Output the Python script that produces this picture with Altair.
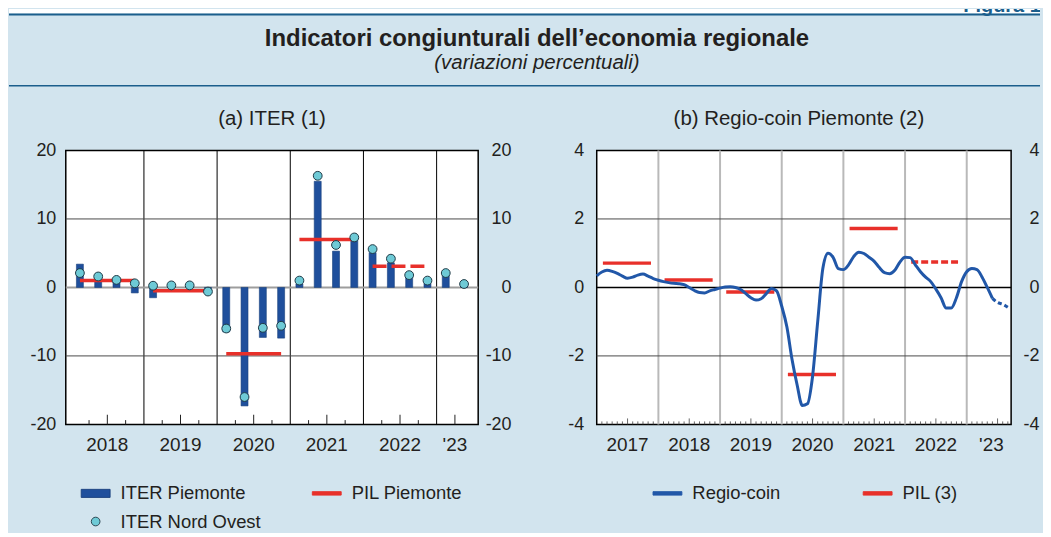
import altair as alt
import pandas as pd

FONT = "Liberation Sans"
TXT = "#231f20"
BG = "#d2e4ee"
NAVY = "#1b5e8c"
BAR = "#1f4f9c"
BAR_EDGE = "#173f7c"
DOT = "#6ecad6"
DOT_EDGE = "#1f3945"
RED = "#e8302a"
LINE = "#2157a8"

# ---------------- data: panel (a) ITER ----------------
quarters = ["2018T1", "2018T2", "2018T3", "2018T4",
            "2019T1", "2019T2", "2019T3", "2019T4",
            "2020T1", "2020T2", "2020T3", "2020T4",
            "2021T1", "2021T2", "2021T3", "2021T4",
            "2022T1", "2022T2", "2022T3", "2022T4",
            "2023T1", "2023T2"]
iter_piemonte = [3.4, 1.3, 0.9, -0.8, -1.5, 0.2, 0.2, -0.4,
                 -6.5, -17.3, -7.3, -7.4, 0.5, 15.5, 5.3, 7.0,
                 5.1, 3.6, 1.5, 0.6, 1.7, 0.2]
iter_nord_ovest = [2.1, 1.6, 1.1, 0.6, 0.25, 0.3, 0.3, -0.6,
                   -6.0, -16.0, -5.9, -5.6, 1.0, 16.3, 6.2, 7.3,
                   5.6, 4.2, 1.8, 1.0, 2.1, 0.5]
pil_years_a = [2018, 2019, 2020, 2021, 2022]
pil_piemonte = [1.0, -0.5, -9.7, 7.0, 3.1]
pil_a_stima = [False, False, False, False, True]
years_a = [2018, 2019, 2020, 2021, 2022, 2023]
ylabels_a = ["2018", "2019", "2020", "2021", "2022", "'23"]
yticks_a = [-20, -10, 0, 10, 20]

# ---------------- data: panel (b) Regio-coin ----------------
regio_start_year = 2017
regio_coin = [0.34, 0.45, 0.50, 0.47, 0.41, 0.33, 0.27, 0.30, 0.36, 0.39, 0.33, 0.26,
              0.21, 0.17, 0.14, 0.12, 0.11, 0.08, 0.00, -0.09, -0.15, -0.16, -0.10, -0.06,
              -0.02, 0.01, 0.02, 0.00, -0.06, -0.18, -0.30, -0.37, -0.33, -0.18, -0.03, -0.10,
              -0.55, -1.15, -2.10, -2.85, -3.45, -3.40, -2.60, -1.00, 0.55, 1.00, 0.88, 0.55,
              0.52, 0.66, 0.90, 1.03, 0.99, 0.88, 0.76, 0.58, 0.43, 0.40, 0.50, 0.74,
              0.88, 0.87, 0.66, 0.46, 0.30, 0.17, -0.05, -0.30, -0.60, -0.60, -0.30, 0.17,
              0.46, 0.55, 0.52, 0.30, 0.00, -0.32, -0.44, -0.49, -0.58]
n_provisional = 3  # last months drawn dotted
pil_years_b = [2017, 2018, 2019, 2020, 2021, 2022]
pil_b = [0.71, 0.22, -0.13, -2.54, 1.72, 0.74]
pil_b_stima = [False, False, False, False, False, True]
years_b = [2017, 2018, 2019, 2020, 2021, 2022, 2023]
ylabels_b = ["2017", "2018", "2019", "2020", "2021", "2022", "'23"]
yticks_b = [-4, -2, 0, 2, 4]

TITLE = "Indicatori congiunturali dell\u2019economia regionale"
SUBTITLE = "(variazioni percentuali)"
TITLE_A = "(a) ITER (1)"
TITLE_B = "(b) Regio-coin Piemonte (2)"
FIGURA = "Figura 1"
legend_a = ["ITER Piemonte", "PIL Piemonte", "ITER Nord Ovest"]
legend_b = ["Regio-coin", "PIL (3)"]

# ---------------- frames ----------------
def qpos(q):
    y, t = q.split("T")
    return int(y) + (int(t) - 0.5) / 4

df_a = pd.DataFrame({"q": quarters, "pos": [qpos(q) for q in quarters],
                     "iter": iter_piemonte, "nw": iter_nord_ovest})
df_pil_a = pd.DataFrame({"x0": [y + 0.125 for y in pil_years_a],
                         "x1": [y + 0.875 for y in pil_years_a],
                         "v": pil_piemonte, "stima": pil_a_stima})
months = [regio_start_year + m / 12 for m in range(len(regio_coin))]
df_b = pd.DataFrame({"x": months, "v": regio_coin})
n = len(regio_coin)
df_b_solid = df_b.iloc[: n - n_provisional]
df_b_dot = df_b.iloc[n - n_provisional - 1:]
df_pil_b = pd.DataFrame({"x0": [y + 0.1 for y in pil_years_b],
                         "x1": [y + 0.88 for y in pil_years_b],
                         "v": pil_b, "stima": pil_b_stima})

# label positions: centre of each year (partial last year -> its visible centre)
lab_a = [y + 0.5 for y in years_a[:-1]] + [2023.25]
lab_b = [y + 0.5 for y in years_b[:-1]] + [2023.4]
df_lab_a = pd.DataFrame({"x": lab_a, "t": ylabels_a})
df_lab_b = pd.DataFrame({"x": lab_b, "t": ylabels_b})

W_A, W_B, H = 414, 416, 275

P_BAR = "M-1,-0.28H1V0.28H-1Z"
P_LINE = "M-1,-0.12H1V0.12H-1Z"
P_DOT = "M-0.3,0A0.3,0.3,0,1,1,0.3,0A0.3,0.3,0,1,1,-0.3,0Z"


def yaxis(orient, pad, extent, align, values):
    return alt.Axis(orient=orient, values=values, ticks=False, domain=False, grid=False,
                    labelPadding=pad, labelAlign=align, labelFontSize=18, labelFont=FONT,
                    labelColor=TXT, labelExpr="'' + datum.value", title=None,
                    minExtent=extent, maxExtent=extent)


def legend_layer(names, colors, strokes, shapes, lx, ly, colpad):
    leg = alt.Legend(title=None, orient="none", legendX=lx, legendY=ly, columns=2,
                     direction="horizontal", columnPadding=colpad, rowPadding=3.5,
                     symbolSize=841, labelOffset=10, labelFontSize=18.5, labelFont=FONT,
                     labelColor=TXT, symbolStrokeWidth=0.9, symbolOpacity=1)
    return alt.Chart(pd.DataFrame({"serie": names})).mark_point(filled=True, opacity=0).encode(
        color=alt.Color("serie:N", scale=alt.Scale(domain=names, range=colors), legend=leg),
        stroke=alt.Stroke("serie:N", scale=alt.Scale(domain=names, range=strokes), legend=leg),
        shape=alt.Shape("serie:N", scale=alt.Scale(domain=names, range=shapes), legend=leg),
    )


def year_labels(df, xs):
    return alt.Chart(df).mark_text(font=FONT, fontSize=19, color=TXT, align="center",
                                   baseline="middle").encode(
        x=alt.X("x:Q", scale=xs, axis=None), y=alt.value(H + 21), text="t:N")


# ---------------- panel (a) ----------------
xa = alt.Scale(domain=[2018, 2023.5], nice=False, zero=False)
ya = alt.Scale(domain=[-20, 20], nice=False)

vgrid_a = alt.Chart(pd.DataFrame({"x": years_a[1:]})).mark_rule(color="black", strokeWidth=1).encode(
    x=alt.X("x:Q", scale=xa, axis=None))
hgrid_a = alt.Chart(pd.DataFrame({"y": [-10, 10]})).mark_rule(
    color="#4a4a4a", strokeWidth=1).encode(y=alt.Y("y:Q", scale=ya, axis=None))
zero_a = alt.Chart(pd.DataFrame({"y": [0]})).mark_rule(color="#9d9d9d", strokeWidth=2).encode(
    y=alt.Y("y:Q", scale=ya, axis=None))
bars = alt.Chart(df_a).mark_bar(size=7, color=BAR, stroke=BAR_EDGE, strokeWidth=0.6).encode(
    x=alt.X("pos:Q", scale=xa, axis=None),
    y=alt.Y("iter:Q", scale=ya, axis=yaxis("left", 10, 57, "right", yticks_a)))
pil_a_solid = alt.Chart(df_pil_a[~df_pil_a.stima]).mark_rule(color=RED, strokeWidth=3.5, strokeCap="butt").encode(
    x=alt.X("x0:Q", scale=xa, axis=None), x2="x1:Q", y=alt.Y("v:Q", scale=ya, axis=None))
pil_a_dash = alt.Chart(df_pil_a[df_pil_a.stima]).mark_rule(color=RED, strokeWidth=3.5, strokeCap="butt",
                                                          strokeDash=[14, 5]).encode(
    x=alt.X("x0:Q", scale=xa, axis=None), x2="x1:Q", y=alt.Y("v:Q", scale=ya, axis=None))
dots = alt.Chart(df_a).mark_circle(size=78, color=DOT, opacity=1, stroke=DOT_EDGE, strokeWidth=1).encode(
    x=alt.X("pos:Q", scale=xa, axis=None),
    y=alt.Y("nw:Q", scale=ya, axis=yaxis("right", 33, 33, "right", yticks_a)))
short_a = [y + f for y in years_a[:-1] for f in (0.25, 0.75)]
ticks_a_s = alt.Chart(pd.DataFrame({"x": short_a})).mark_rule(color="#222", strokeWidth=1).encode(
    x=alt.X("x:Q", scale=xa, axis=None), y=alt.value(H), y2=alt.value(H - 4.3))
ticks_a_l = alt.Chart(pd.DataFrame({"x": lab_a})).mark_rule(color="#222", strokeWidth=1).encode(
    x=alt.X("x:Q", scale=xa, axis=None), y=alt.value(H), y2=alt.value(H - 9.7))
leg_a = legend_layer(legend_a, [BAR, RED, DOT], [BAR_EDGE, RED, DOT_EDGE],
                     [P_BAR, P_LINE, P_DOT], 15, 329, 49)

panel_a = alt.layer(vgrid_a, hgrid_a, zero_a, bars, pil_a_solid, pil_a_dash, dots,
                    ticks_a_s, ticks_a_l, year_labels(df_lab_a, xa), leg_a).resolve_axis(
    y="independent").properties(
    width=W_A, height=H, view=alt.ViewBackground(fill="white", stroke="black", strokeWidth=1.5))

# ---------------- panel (b) ----------------
xb = alt.Scale(domain=[2017, 2023.72], nice=False, zero=False)
yb = alt.Scale(domain=[-4, 4], nice=False)

vgrid_b = alt.Chart(pd.DataFrame({"x": years_b[1:]})).mark_rule(color="#b9b9b9", strokeWidth=2).encode(
    x=alt.X("x:Q", scale=xb, axis=None))
hgrid_b = alt.Chart(pd.DataFrame({"y": [-2, 2]})).mark_rule(color="#4a4a4a", strokeWidth=1).encode(
    y=alt.Y("y:Q", scale=yb, axis=None))
zero_b = alt.Chart(pd.DataFrame({"y": [0]})).mark_rule(color="black", strokeWidth=1.4).encode(
    y=alt.Y("y:Q", scale=yb, axis=None))
line_b = alt.Chart(df_b_solid).mark_line(color=LINE, strokeWidth=3, interpolate="monotone").encode(
    x=alt.X("x:Q", scale=xb, axis=None),
    y=alt.Y("v:Q", scale=yb, axis=yaxis("left", 13, 40, "right", yticks_b)))
line_b_dot = alt.Chart(df_b_dot).mark_line(color=LINE, strokeWidth=3, strokeDash=[4, 3],
                                           interpolate="monotone").encode(
    x=alt.X("x:Q", scale=xb, axis=None), y=alt.Y("v:Q", scale=yb, axis=None))
pil_b_solid = alt.Chart(df_pil_b[~df_pil_b.stima]).mark_rule(color=RED, strokeWidth=3.5, strokeCap="butt").encode(
    x=alt.X("x0:Q", scale=xb, axis=None), x2="x1:Q",
    y=alt.Y("v:Q", scale=yb, axis=alt.Axis(orient="right", values=yticks_b, ticks=False, domain=False,
                                            grid=False, labelPadding=28, labelAlign="right",
                                            labelFontSize=18, labelFont=FONT, labelColor=TXT,
                                            labelExpr="'' + datum.value", title=None,
                                            minExtent=31, maxExtent=31)))
pil_b_dash = alt.Chart(df_pil_b[df_pil_b.stima]).mark_rule(color=RED, strokeWidth=3.5, strokeCap="butt",
                                                          strokeDash=[7, 3]).encode(
    x=alt.X("x0:Q", scale=xb, axis=None), x2="x1:Q", y=alt.Y("v:Q", scale=yb, axis=None))
short_b = [regio_start_year + m / 12 for m in range(1, n) if m % 12 not in (0, 6)]
long_b = [y + 0.5 for y in years_b]
ticks_b_s = alt.Chart(pd.DataFrame({"x": short_b})).mark_rule(color="#444", strokeWidth=0.8).encode(
    x=alt.X("x:Q", scale=xb, axis=None), y=alt.value(H), y2=alt.value(H - 3))
ticks_b_l = alt.Chart(pd.DataFrame({"x": long_b})).mark_rule(color="#444", strokeWidth=0.8).encode(
    x=alt.X("x:Q", scale=xb, axis=None), y=alt.value(H), y2=alt.value(H - 6))
leg_b = legend_layer(legend_b, [LINE, RED], [LINE, RED], [P_LINE, P_LINE], 56, 329, 80)

panel_b = alt.layer(vgrid_b, hgrid_b, zero_b, pil_b_solid, pil_b_dash, line_b, line_b_dot,
                    ticks_b_s, ticks_b_l, year_labels(df_lab_b, xb), leg_b).resolve_axis(
    y="independent").properties(
    width=W_B, height=H, view=alt.ViewBackground(fill="white", stroke="black", strokeWidth=1.5))

panels = alt.hconcat(panel_a, panel_b, spacing=44).resolve_scale(
    x="independent", y="independent", color="independent", shape="independent",
    stroke="independent").resolve_legend(color="independent", shape="independent",
                                         stroke="independent")

# ---------------- header (origin aligned with the left plot edge) ----------------
HW = 978
one = alt.Chart(pd.DataFrame({"k": [0]}))
white = one.mark_rect(color="white").encode(x=alt.value(-57), x2=alt.value(HW),
                                             y=alt.value(0), y2=alt.value(4.5))
line1 = one.mark_rule(color=NAVY, strokeWidth=2).encode(x=alt.value(-57), x2=alt.value(HW), y=alt.value(5.5))
line2 = one.mark_rule(color=NAVY, strokeWidth=1.5).encode(x=alt.value(-57), x2=alt.value(HW), y=alt.value(77))
fig = one.mark_text(text=FIGURA, font=FONT, fontSize=20, fontWeight="bold", color=NAVY, clip=True,
                    align="left", baseline="alphabetic").encode(x=alt.value(901), y=alt.value(3.5))
title = one.mark_text(text=TITLE, font=FONT, fontSize=24, fontWeight="bold", color=TXT,
                      align="center", baseline="alphabetic").encode(x=alt.value(473), y=alt.value(37))
subtitle = one.mark_text(text=SUBTITLE, font=FONT, fontSize=20.5, fontStyle="italic", color=TXT,
                         align="center", baseline="alphabetic").encode(x=alt.value(473), y=alt.value(60))
ta = one.mark_text(text=TITLE_A, font=FONT, fontSize=20.5, color=TXT,
                   align="center", baseline="alphabetic").encode(x=alt.value(207), y=alt.value(116))
tb = one.mark_text(text=TITLE_B, font=FONT, fontSize=20.5, color=TXT,
                   align="center", baseline="alphabetic").encode(x=alt.value(736), y=alt.value(116))
header = alt.layer(white, line1, line2, fig, title, subtitle, ta, tb).properties(
    width=HW, height=132, view=alt.ViewBackground(stroke="transparent", strokeWidth=0))

chart = alt.vconcat(header, panels, spacing=0).properties(
    background=BG, padding=0).configure_view(strokeWidth=0)

chart.save("out.html", embed_options={"renderer": "svg", "actions": False})
